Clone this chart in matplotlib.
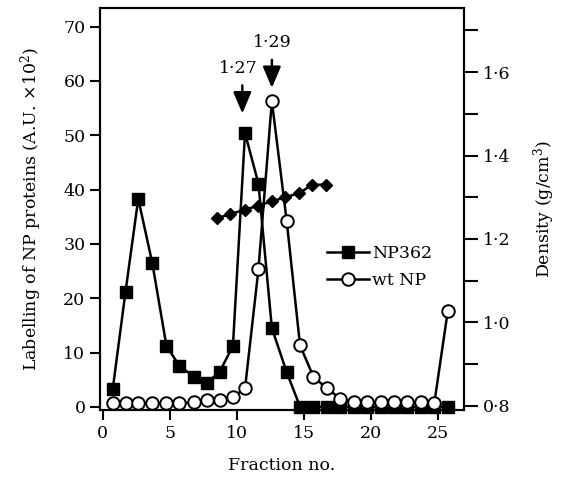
import matplotlib
matplotlib.use("Agg")
import matplotlib.pyplot as plt

plt.rcParams["font.family"] = ["DejaVu Serif"]
plt.rcParams["mathtext.fontset"] = "dejavuserif"

# fraction positions
fractions = [0.75, 1.7, 2.65, 3.7, 4.75, 5.7, 6.8, 7.75, 8.7, 9.7, 10.6, 11.6, 12.6,
             13.7, 14.7, 15.7, 16.7, 17.7, 18.7, 19.7, 20.7, 21.7, 22.7, 23.7, 24.7, 25.7]
np362 = [3.3, 21.2, 38.3, 26.4, 11.2, 7.6, 5.5, 4.4, 6.4, 11.2, 50.4, 41.1, 14.5,
         6.4, 0, 0, 0, 0, 0, 0, 0, 0, 0, 0, 0, 0]
wt_np = [0.7, 0.7, 0.7, 0.7, 0.7, 0.7, 0.8, 1.2, 1.2, 1.8, 3.4, 25.3, 56.3,
         34.3, 11.3, 5.5, 3.4, 1.5, 0.8, 0.8, 0.8, 0.8, 0.8, 0.8, 0.7, 17.6]

dens_x = [8.55, 9.5, 10.6, 11.6, 12.6, 13.6, 14.65, 15.6, 16.6]
density = [1.25, 1.26, 1.27, 1.28, 1.29, 1.30, 1.31, 1.33, 1.33]

peak_x = [10.4, 12.6]
peak_tip = [53.5, 58.2]
peak_labels = ["1·27", "1·29"]

x_ticks = [0, 5, 10, 15, 20, 25]
left_ticks = [0, 10, 20, 30, 40, 50, 60, 70]
right_ticks = [0.8, 1.0, 1.2, 1.4, 1.6]
right_labels = ["0·8", "1·0", "1·2", "1·4", "1·6"]
right_minor = [0.9, 1.1, 1.3, 1.5, 1.7]

fs = 12.5

fig = plt.figure(figsize=(5.65, 4.83), dpi=100)
ax = fig.add_axes([0.177, 0.151, 0.644, 0.832])
ax2 = ax.twinx()

ax.plot(fractions, np362, color="black", lw=1.8, marker="s", ms=9,
        mfc="black", mec="black", label="NP362", zorder=3, clip_on=False)
ax.plot(fractions, wt_np, color="black", lw=1.8, marker="o", ms=9,
        mfc="white", mec="black", mew=1.4, label="wt NP", zorder=3, clip_on=False)
ax2.plot(dens_x, density, color="black", lw=1.8, marker="D", ms=6.5,
         mfc="black", mec="black")

ax.set_xlim(-0.2, 26.9)
ax.set_ylim(-0.6, 73.4)
ax2.set_ylim(0.79, 1.753)

ax.set_xticks(x_ticks)
ax.set_yticks(left_ticks)
ax2.set_yticks(right_ticks)
ax2.set_yticklabels(right_labels)
ax2.set_yticks(right_minor, minor=True)

ax.tick_params(axis="both", direction="out", length=7, width=1.5, labelsize=fs)
ax2.tick_params(axis="y", which="both", direction="out", length=10, width=1.5, labelsize=fs)
for a in (ax, ax2):
    for s in a.spines.values():
        s.set_linewidth(1.5)

ax.set_xlabel("Fraction no.", fontsize=fs, labelpad=11)
ax.set_ylabel("Labelling of NP proteins (A.U. ×10$^{2}$)", fontsize=fs, labelpad=14)
ax2.set_ylabel("Density (g/cm$^{3}$)", fontsize=fs, labelpad=15)

# arrows marking peak densities
for px, tip, lab in zip(peak_x, peak_tip, peak_labels):
    ax.annotate("", xy=(px, tip), xytext=(px, tip + 6.2),
                arrowprops=dict(arrowstyle="-|>,head_width=0.55,head_length=1.3",
                                color="black", lw=1.8))
    ax.text(px - 0.3 if lab == "1·27" else px, tip + 8.8, lab,
            ha="center", va="center", fontsize=fs)

ax.legend(loc="center left", bbox_to_anchor=(0.6, 0.356), frameon=False,
          fontsize=fs, handlelength=2.4, handletextpad=0.2, borderpad=0,
          labelspacing=0.6)

fig.savefig("out.png", dpi=100)
